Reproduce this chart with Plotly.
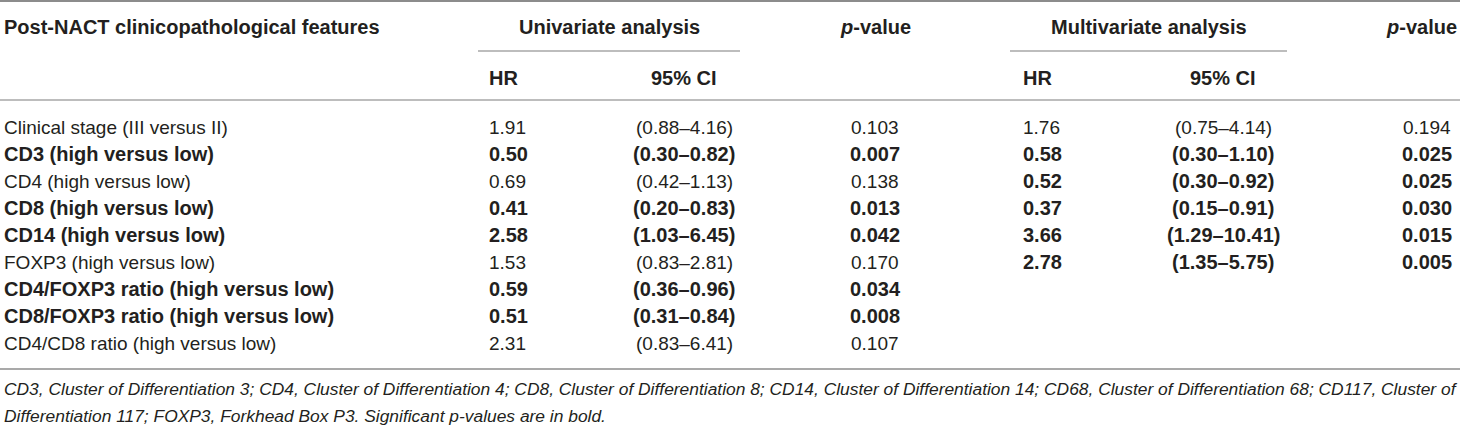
import plotly.graph_objs as go

# Datos de la tabla
features = [
    "Clinical stage (III versus II)",
    "CD3 (high versus low)",
    "CD4 (high versus low)",
    "CD8 (high versus low)",
    "CD14 (high versus low)",
    "FOXP3 (high versus low)",
    "CD4/FOXP3 ratio (high versus low)",
    "CD8/FOXP3 ratio (high versus low)",
    "CD4/CD8 ratio (high versus low)",
]
hr_uni = ["1.91", "0.50", "0.69", "0.41", "2.58", "1.53", "0.59", "0.51", "2.31"]
ci_uni = ["(0.88–4.16)", "(0.30–0.82)", "(0.42–1.13)", "(0.20–0.83)", "(1.03–6.45)",
          "(0.83–2.81)", "(0.36–0.96)", "(0.31–0.84)", "(0.83–6.41)"]
p_uni = ["0.103", "0.007", "0.138", "0.013", "0.042", "0.170", "0.034", "0.008", "0.107"]
hr_multi = ["1.76", "0.58", "0.52", "0.37", "3.66", "2.78"]
ci_multi = ["(0.75–4.14)", "(0.30–1.10)", "(0.30–0.92)", "(0.15–0.91)", "(1.29–10.41)", "(1.35–5.75)"]
p_multi = ["0.194", "0.025", "0.025", "0.030", "0.015", "0.005"]

footnote = [
    "CD3, Cluster of Differentiation 3; CD4, Cluster of Differentiation 4; CD8, Cluster of Differentiation 8; "
    "CD14, Cluster of Differentiation 14; CD68, Cluster of Differentiation 68; CD117, Cluster of",
    "Differentiation 117; FOXP3, Forkhead Box P3. Significant <i>p</i>-values are in bold.",
]

W, H = 1460, 426
FONT = "Liberation Sans, Arial, sans-serif"
COLOR = "#231f20"
SIZE, SIZE_BOLD, SIZE_NOTE = 19, 20, 17.4

# posiciones de columnas (px) y filas
x_feat = 2
x_hr_uni, x_ci_uni, x_p_uni = 487, 684, 875
x_hr_multi, x_ci_multi, x_p_multi = 1021, 1223, 1427
y_head1, y_head2 = 27, 78
y_row0, row_h = 127, 27

fig = go.Figure()
# traza invisible para fijar los ejes
fig.add_trace(go.Scatter(x=[0, W], y=[0, H], mode="markers", marker=dict(opacity=0),
                         hoverinfo="skip", showlegend=False))


def txt(x, y, text, anchor="center", bold=False, italic=False, size=None):
    if size is None:
        size = SIZE_BOLD if bold else SIZE
    if bold:
        text = f"<b>{text}</b>"
    if italic:
        text = f"<i>{text}</i>"
    fig.add_annotation(x=x, y=y, xref="x", yref="y", text=text, showarrow=False,
                       xanchor=anchor, yanchor="middle",
                       font=dict(family=FONT, size=size, color=COLOR))


def hline(x0, x1, y, width=1.3, color="#a7a7a7"):
    fig.add_shape(type="line", xref="x", yref="y", x0=x0, x1=x1, y0=y, y1=y,
                  line=dict(color=color, width=width))


# Encabezados
txt(x_feat, y_head1, "Post-NACT clinicopathological features", "left", bold=True)
txt((478 + 740) / 2, y_head1, "Univariate analysis", bold=True)
txt(x_p_uni, y_head1, "<i>p</i>-value", bold=True)
txt((1010 + 1287) / 2, y_head1, "Multivariate analysis", bold=True)
txt(W - 1, y_head1, "<i>p</i>-value", "right", bold=True)
txt(x_hr_uni, y_head2, "HR", "left", bold=True)
txt(x_ci_uni, y_head2, "95% CI", bold=True)
txt(x_hr_multi, y_head2, "HR", "left", bold=True)
txt(x_ci_multi, y_head2, "95% CI", bold=True)

# Filas
for i, name in enumerate(features):
    y = y_row0 + i * row_h
    sig = float(p_uni[i]) < 0.05
    txt(x_feat, y, name, "left", bold=sig)
    txt(x_hr_uni, y, hr_uni[i], "left", bold=sig)
    txt(x_ci_uni, y, ci_uni[i], bold=sig)
    txt(x_p_uni, y, p_uni[i], bold=sig)
    if i < len(p_multi):
        sig_m = float(p_multi[i]) < 0.05
        txt(x_hr_multi, y, hr_multi[i], "left", bold=sig_m)
        txt(x_ci_multi, y, ci_multi[i], bold=sig_m)
        txt(x_p_multi, y, p_multi[i], bold=sig_m)

# Líneas
hline(0, W, 1, width=2, color="#8c8c8c")
hline(478, 740, 51)
hline(1010, 1287, 51)
hline(0, W, 100)
hline(0, W, 369, width=1.5, color="#8c8c8c")

# Nota al pie
for j, line in enumerate(footnote):
    txt(x_feat, 389 + j * 27, line, "left", italic=True, size=SIZE_NOTE)

fig.update_layout(
    width=W, height=H,
    margin=dict(l=0, r=0, t=0, b=0),
    paper_bgcolor="white", plot_bgcolor="white",
    xaxis=dict(range=[0, W], visible=False, fixedrange=True),
    yaxis=dict(range=[H, 0], visible=False, fixedrange=True),
    showlegend=False,
)

# quita el margen por defecto de la página y la barra de herramientas
fig.write_html("out.html", config={"displayModeBar": False},
               post_script="document.body.style.margin='0px';")
